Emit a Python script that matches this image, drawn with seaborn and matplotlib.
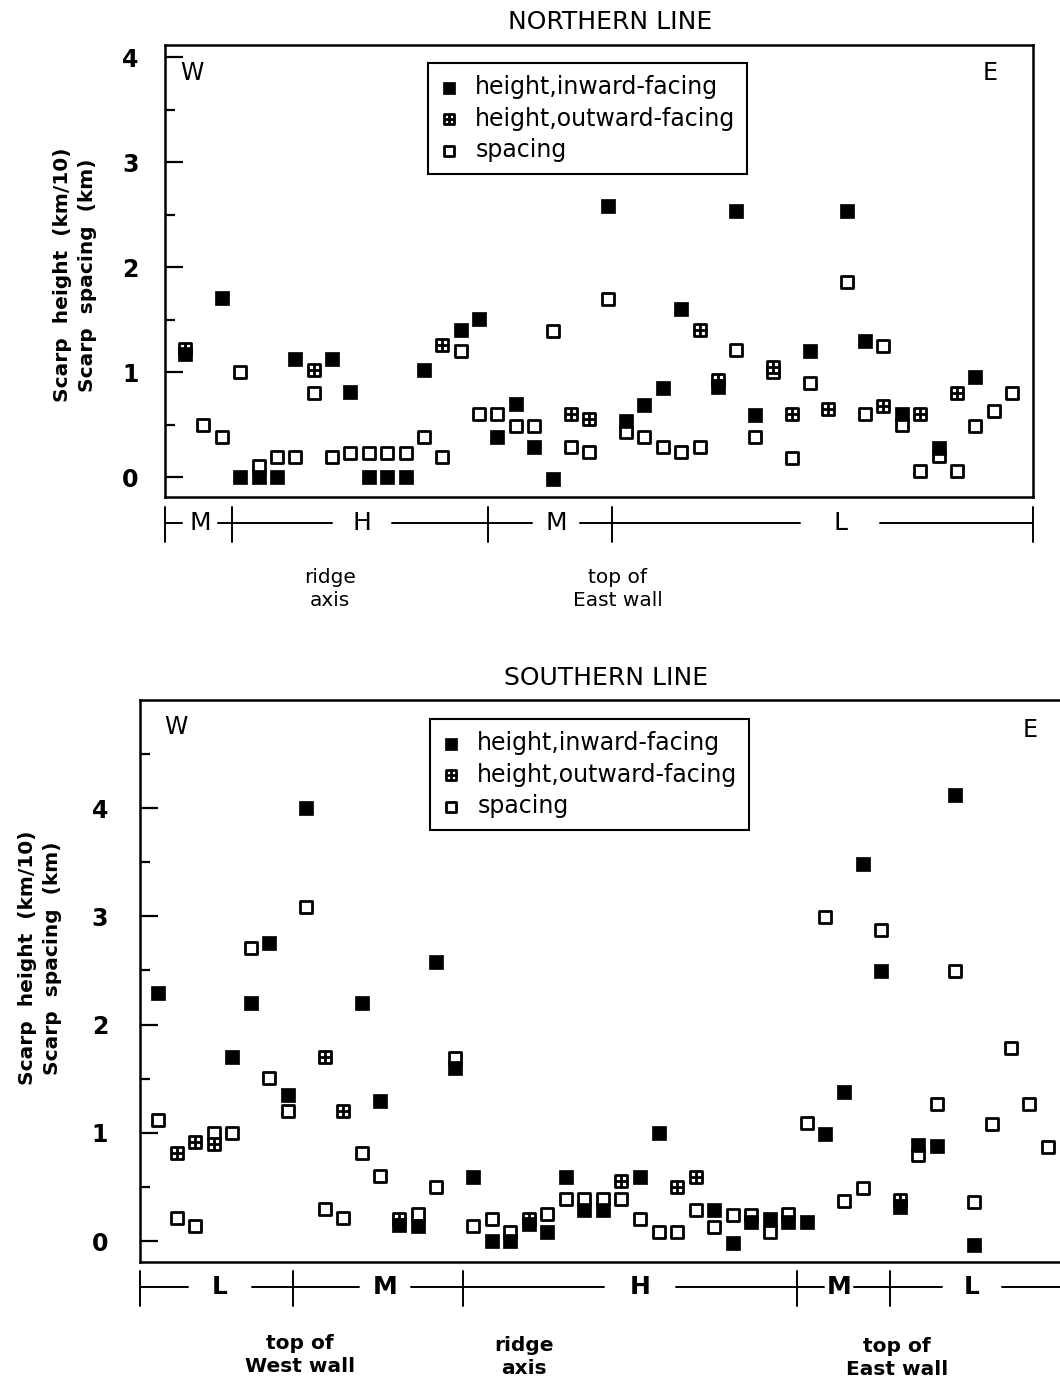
import matplotlib.pyplot as plt
from matplotlib.path import Path
from matplotlib.lines import Line2D
from matplotlib.ticker import MultipleLocator
import seaborn as sns

# ---- Northern line (x = scarp index along the profile, W -> E) ----
north_in_x = [0, 2, 3, 4, 5, 6, 8, 9, 10, 11, 12, 13, 15, 16, 17, 18, 19, 20, 23, 24,
              25, 26, 27, 29, 30, 31, 34, 36, 37, 39, 41, 43]
north_in_y = [1.17, 1.71, 0, 0, 0, 1.12, 1.12, 0.81, 0, 0, 0, 1.02, 1.4, 1.51, 0.38, 0.7,
              0.29, -0.02, 2.58, 0.53, 0.69, 0.85, 1.6, 0.86, 2.53, 0.59, 1.2, 2.53, 1.3,
              0.6, 0.28, 0.95]
north_out_x = [0, 7, 14, 21, 22, 28, 29, 32, 33, 35, 38, 40, 42]
north_out_y = [1.22, 1.02, 1.26, 0.6, 0.55, 1.4, 0.92, 1.05, 0.6, 0.65, 0.68, 0.6, 0.8]
north_sp_x = [1, 2, 3, 4, 5, 6, 7, 8, 9, 10, 11, 12, 13, 14, 15, 16, 17, 18, 19, 20, 21,
              22, 23, 24, 25, 26, 27, 28, 30, 31, 32, 33, 34, 36, 37, 38, 39, 40, 41, 42,
              43, 44, 45]
north_sp_y = [0.5, 0.38, 1.0, 0.11, 0.19, 0.19, 0.8, 0.19, 0.23, 0.23, 0.23, 0.23, 0.38,
              0.19, 1.2, 0.6, 0.6, 0.49, 0.49, 1.39, 0.29, 0.24, 1.7, 0.43, 0.38, 0.29,
              0.24, 0.29, 1.21, 0.38, 1.0, 0.18, 0.9, 1.86, 0.6, 1.25, 0.5, 0.06, 0.2,
              0.06, 0.49, 0.63, 0.8]

# ---- Southern line ----
south_in_x = [0, 4, 5, 6, 7, 8, 11, 12, 13, 14, 15, 16, 17, 18, 19, 20, 21, 22, 23, 24,
              26, 27, 30, 31, 32, 33, 34, 35, 36, 37, 38, 39, 40, 41, 42, 43, 44]
south_in_y = [2.29, 1.70, 2.2, 2.75, 1.35, 4.0, 2.2, 1.29, 0.15, 0.14, 2.58, 1.6, 0.59,
              0.0, 0.0, 0.16, 0.08, 0.59, 0.29, 0.29, 0.59, 1.0, 0.29, -0.02, 0.18, 0.2,
              0.18, 0.18, 0.99, 1.38, 3.48, 2.49, 0.31, 0.89, 0.88, 4.12, -0.04]
south_out_x = [1, 2, 3, 9, 10, 13, 20, 25, 28, 29, 40]
south_out_y = [0.81, 0.91, 0.9, 1.70, 1.2, 0.2, 0.2, 0.55, 0.5, 0.59, 0.38]
south_sp_x = [0, 1, 2, 3, 4, 5, 6, 7, 8, 9, 10, 11, 12, 14, 15, 16, 17, 18, 19, 21, 22,
              23, 24, 25, 26, 27, 28, 29, 30, 31, 32, 33, 34, 35, 36, 37, 38, 39, 41, 42,
              43, 44, 45, 46, 47, 48]
south_sp_y = [1.12, 0.21, 0.14, 1.0, 1.0, 2.71, 1.51, 1.2, 3.09, 0.3, 0.21, 0.81, 0.6,
              0.25, 0.5, 1.69, 0.14, 0.2, 0.08, 0.25, 0.39, 0.39, 0.39, 0.39, 0.2, 0.08,
              0.08, 0.29, 0.13, 0.24, 0.24, 0.08, 0.25, 1.09, 2.99, 0.37, 0.49, 2.87,
              0.79, 1.27, 2.49, 0.36, 1.08, 1.78, 1.27, 0.87]

labels = ['height,inward-facing', 'height,outward-facing', 'spacing']
ylab = 'Scarp  height  (km/10)\nScarp  spacing  (km)'

sns.set_style('ticks')
plt.rcParams['font.family'] = ['DejaVu Sans']
plt.rcParams.update({'text.color': 'black', 'axes.edgecolor': 'black',
                     'ytick.color': 'black', 'xtick.color': 'black',
                     'axes.labelcolor': 'black'})

W, H = 1060, 1385
fig = plt.figure(figsize=(W / 100, H / 100), dpi=100)


def fx(x):
    return x / W


def fy(y):
    return 1 - y / H


# square with a cross inside
box_plus = Path([(-1, -1), (1, -1), (1, 1), (-1, 1), (-1, -1), (0, -1), (0, 1), (-1, 0), (1, 0)],
                [Path.MOVETO, Path.LINETO, Path.LINETO, Path.LINETO, Path.CLOSEPOLY,
                 Path.MOVETO, Path.LINETO, Path.MOVETO, Path.LINETO])


def panel(rect, xlim, ylim, in_x, in_y, out_x, out_y, sp_x, sp_y, pad, leg_xy):
    ax = fig.add_axes(rect)
    sns.scatterplot(x=sp_x, y=sp_y, ax=ax, marker='s', s=85, color='white',
                    edgecolor='black', linewidth=2.0, label=labels[2], zorder=3)
    sns.scatterplot(x=out_x, y=out_y, ax=ax, marker=box_plus, s=80, color='white',
                    edgecolor='black', linewidth=2.0, label=labels[1], zorder=4)
    sns.scatterplot(x=in_x, y=in_y, ax=ax, marker='s', s=95, color='black',
                    edgecolor='black', linewidth=0.5, label=labels[0], zorder=5)
    ax.set_xlim(xlim)
    ax.set_ylim(ylim)
    ax.set_yticks([0, 1, 2, 3, 4])
    ax.yaxis.set_minor_locator(MultipleLocator(0.5))
    ax.tick_params(axis='y', which='major', direction='in', left=True, length=13, width=1.6,
                   labelsize=17, pad=pad)
    ax.tick_params(axis='y', which='minor', direction='in', left=True, length=7, width=1.6)
    ax.tick_params(axis='x', bottom=False, labelbottom=False)
    for t in ax.get_yticklabels():
        t.set_fontweight('bold')
    for s in ax.spines.values():
        s.set_linewidth(1.8)
        s.set_visible(True)

    h, l = ax.get_legend_handles_labels()
    order = [l.index(name) for name in labels]
    leg = ax.legend([h[i] for i in order], [l[i] for i in order],
                    loc='upper left', bbox_to_anchor=leg_xy, bbox_transform=fig.transFigure,
                    borderaxespad=0, fontsize=17, frameon=True, fancybox=False,
                    framealpha=1, edgecolor='black', markerscale=0.82, handlelength=0.8,
                    handletextpad=0.7, borderpad=0.5, labelspacing=0.33)
    leg.get_frame().set_linewidth(1.5)
    return ax


def scale_bar(y, x0, x1, bars, marks, bold):
    # horizontal line broken around the labels
    cuts = sorted((x - g, x + g) for x, _, g in marks)
    start = x0
    for a, b in cuts:
        fig.add_artist(Line2D([fx(start), fx(a)], [fy(y), fy(y)], color='black', lw=1.4))
        start = b
    fig.add_artist(Line2D([fx(start), fx(x1)], [fy(y), fy(y)], color='black', lw=1.4))
    for b in bars:
        fig.add_artist(Line2D([fx(b), fx(b)], [fy(y - 16), fy(y + 19)], color='black', lw=1.4))
    for x, t, _ in marks:
        fig.text(fx(x), fy(y), t, ha='center', va='center', fontsize=18,
                 fontweight='bold' if bold else 'normal')


# ---- Northern panel ----
panel([fx(165), fy(497), fx(1033) - fx(165), fy(45) - fy(497)], (-1.09, 46.14), (-0.19, 4.115),
      north_in_x, north_in_y, north_out_x, north_out_y, north_sp_x, north_sp_y, 19,
      (fx(428), fy(63)))
fig.text(fx(610), fy(22), 'NORTHERN LINE', ha='center', va='center', fontsize=18)
fig.text(fx(192), fy(73), 'W', ha='center', va='center', fontsize=17)
fig.text(fx(990), fy(73), 'E', ha='center', va='center', fontsize=17)
fig.text(fx(75), fy(275), ylab, rotation=90, ha='center', va='center', fontsize=14.5,
         fontweight='bold', linespacing=1.45, multialignment='center')
scale_bar(523, 165, 1033, [165, 232, 488, 612, 1033],
          [(200, 'M', 18), (362, 'H', 30), (556, 'M', 24), (840, 'L', 40)], False)
fig.text(fx(330), fy(589), 'ridge\naxis', ha='center', va='center', fontsize=14.5,
         linespacing=1.3)
fig.text(fx(618), fy(589), 'top of\nEast wall', ha='center', va='center', fontsize=14.5,
         linespacing=1.3)

# ---- Southern panel ----
panel([fx(140), fy(1262), fx(1080) - fx(140), fy(700) - fy(1262)], (-0.97, 49.73), (-0.194, 4.998),
      south_in_x, south_in_y, south_out_x, south_out_y, south_sp_x, south_sp_y, 23,
      (fx(430), fy(719)))
fig.text(fx(606), fy(678), 'SOUTHERN LINE', ha='center', va='center', fontsize=18)
fig.text(fx(176), fy(727), 'W', ha='center', va='center', fontsize=17)
fig.text(fx(1030), fy(730), 'E', ha='center', va='center', fontsize=17)
fig.text(fx(40), fy(958), ylab, rotation=90, ha='center', va='center', fontsize=14.5,
         fontweight='bold', linespacing=1.45, multialignment='center')
scale_bar(1287, 140, 1060, [140, 293, 463, 797, 890],
          [(220, 'L', 32), (385, 'M', 26), (640, 'H', 36), (839, 'M', 15), (972, 'L', 30)], True)
fig.text(fx(300), fy(1355), 'top of\nWest wall', ha='center', va='center', fontsize=14.5,
         fontweight='bold', linespacing=1.3)
fig.text(fx(524), fy(1357), 'ridge\naxis', ha='center', va='center', fontsize=14.5,
         fontweight='bold', linespacing=1.3)
fig.text(fx(897), fy(1358), 'top of\nEast wall', ha='center', va='center', fontsize=14.5,
         fontweight='bold', linespacing=1.3)

fig.savefig('out.png', dpi=100)
